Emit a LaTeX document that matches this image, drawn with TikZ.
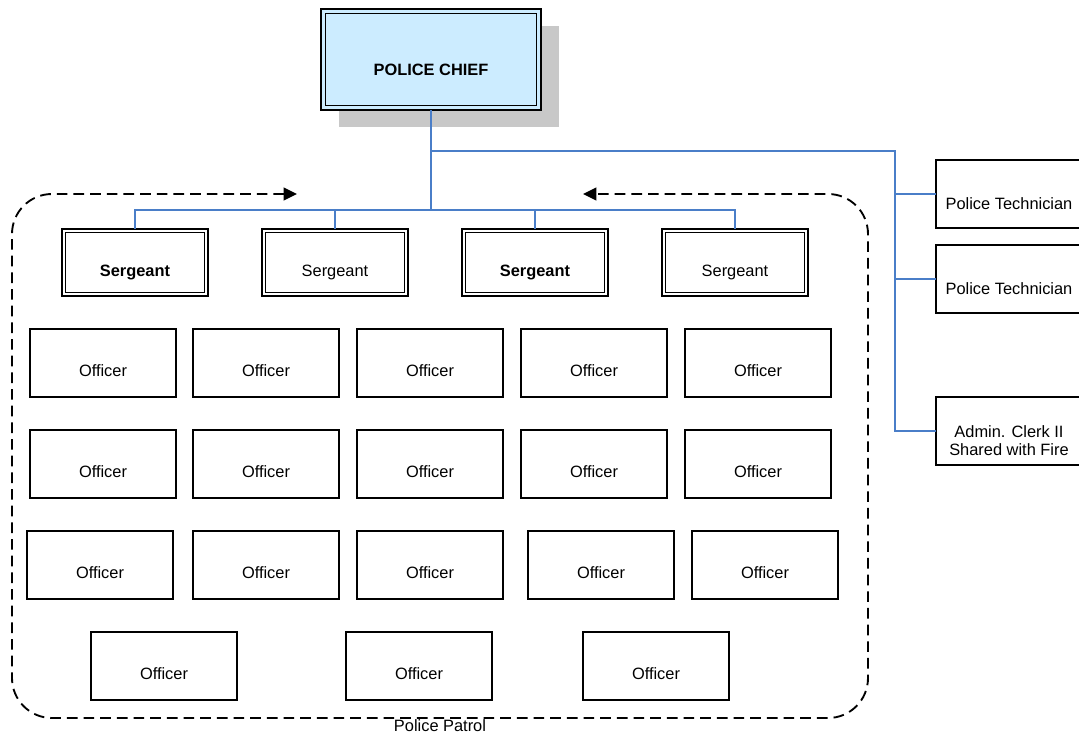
\documentclass[tikz,border=0pt]{standalone}
\usepackage{fontspec}
\setmainfont{Liberation Sans}
\usetikzlibrary{arrows.meta,shadows}
\definecolor{chieffill}{RGB}{204,236,255}
\definecolor{orgblue}{RGB}{74,126,200}
\definecolor{shadowgray}{RGB}{200,200,200}
\begin{document}
\begin{tikzpicture}[x=0.75pt,y=-0.75pt,
  every node/.style={font=\fontsize{12.3}{13.5}\selectfont},
  txt/.style={inner sep=0pt, yshift=-6pt, align=center},
  bold/.style={font=\fontsize{12.3}{13.5}\selectfont\bfseries},
  box/.style={draw=black, line width=1.1pt, fill=white,
    minimum width=109.5pt, minimum height=51pt, inner sep=0pt, outer sep=0pt},
  officer/.style={box, label={[txt]center:Officer}},
  sergeant/.style={box, line width=1.5pt, minimum height=50.25pt,
    path picture={\draw[line width=0.8pt]
      ([shift={(2.6pt,-2.6pt)}]path picture bounding box.north west) rectangle
      ([shift={(-2.6pt,2.6pt)}]path picture bounding box.south east);}},
  staff/.style={box, line width=1.1pt},
  chiefbox/.style={draw=black, line width=2.2pt, fill=chieffill,
    minimum width=165pt, minimum height=75.75pt, inner sep=0pt, outer sep=0pt,
    drop shadow={shadow xshift=13.5pt, shadow yshift=-12.5pt, fill=shadowgray, opacity=1},
    path picture={\draw[line width=0.9pt]
      ([shift={(3.2pt,-3.2pt)}]path picture bounding box.north west) rectangle
      ([shift={(-3.2pt,3.2pt)}]path picture bounding box.south east);}},
  link/.style={draw=orgblue, line width=1.1pt},
  frame/.style={draw=black, line width=1.4pt, dash pattern=on 8pt off 4.5pt,
    rounded corners=30pt, {Triangle[length=10pt,width=9.5pt]}-{Triangle[length=10pt,width=9.5pt]}}
]
\useasboundingbox (0,0) rectangle (1079,736);

% patrol group frame
\coordinate (fa) at (297,194);
\coordinate (fb) at (583,194);
\draw[frame] (fa) -- (12,194) -- (12,718) -- (868,718) -- (868,194) -- (fb);
\node[inner sep=0pt] (patrol) at (440,726) {Police Patrol};

% chief
\node[chiefbox, label={[txt, yshift=-2pt, bold]center:POLICE CHIEF}] (chief) at (431,59.5) {};

% sergeants
\node[sergeant, label={[txt, yshift=-1.5pt, bold]center:Sergeant}] (sg1) at (135,262.5) {};
\node[sergeant, label={[txt, yshift=-1.5pt]center:Sergeant}] (sg2) at (335,262.5) {};
\node[sergeant, label={[txt, yshift=-1.5pt, bold]center:Sergeant}] (sg3) at (535,262.5) {};
\node[sergeant, label={[txt, yshift=-1.5pt]center:Sergeant}] (sg4) at (735,262.5) {};

% officers
\node[officer] (o11) at (103,363) {};
\node[officer] (o12) at (266,363) {};
\node[officer] (o13) at (430,363) {};
\node[officer] (o14) at (594,363) {};
\node[officer] (o15) at (758,363) {};
\node[officer] (o21) at (103,464) {};
\node[officer] (o22) at (266,464) {};
\node[officer] (o23) at (430,464) {};
\node[officer] (o24) at (594,464) {};
\node[officer] (o25) at (758,464) {};
\node[officer] (o31) at (100,565) {};
\node[officer] (o32) at (266,565) {};
\node[officer] (o33) at (430,565) {};
\node[officer] (o34) at (601,565) {};
\node[officer] (o35) at (765,565) {};
\node[officer] (o41) at (164,666) {};
\node[officer] (o42) at (419,666) {};
\node[officer] (o43) at (656,666) {};

% support staff
\node[staff, label={[txt, yshift=-1.5pt]center:Police Technician}] (tech1) at (1009,194) {};
\node[staff, label={[txt, yshift=-1.5pt]center:Police Technician}] (tech2) at (1009,279) {};
\node[staff, label={[txt, yshift=-1pt]center:Admin. Clerk II\\Shared with Fire}] (clerk) at (1009,431) {};

% reporting lines
\coordinate (bus) at (431,210);
\coordinate (rail) at (895,151);
\draw[link] (chief.south) -- (bus);
\draw[link] (sg1.north) |- (bus) -| (sg4.north);
\draw[link] (sg2.north) -- (sg2.north |- bus);
\draw[link] (sg3.north) -- (sg3.north |- bus);
\draw[link] (chief.south) |- (rail) |- (clerk.west);
\draw[link] (rail |- tech1.west) -- (tech1.west);
\draw[link] (rail |- tech2.west) -- (tech2.west);
\end{tikzpicture}
\end{document}
